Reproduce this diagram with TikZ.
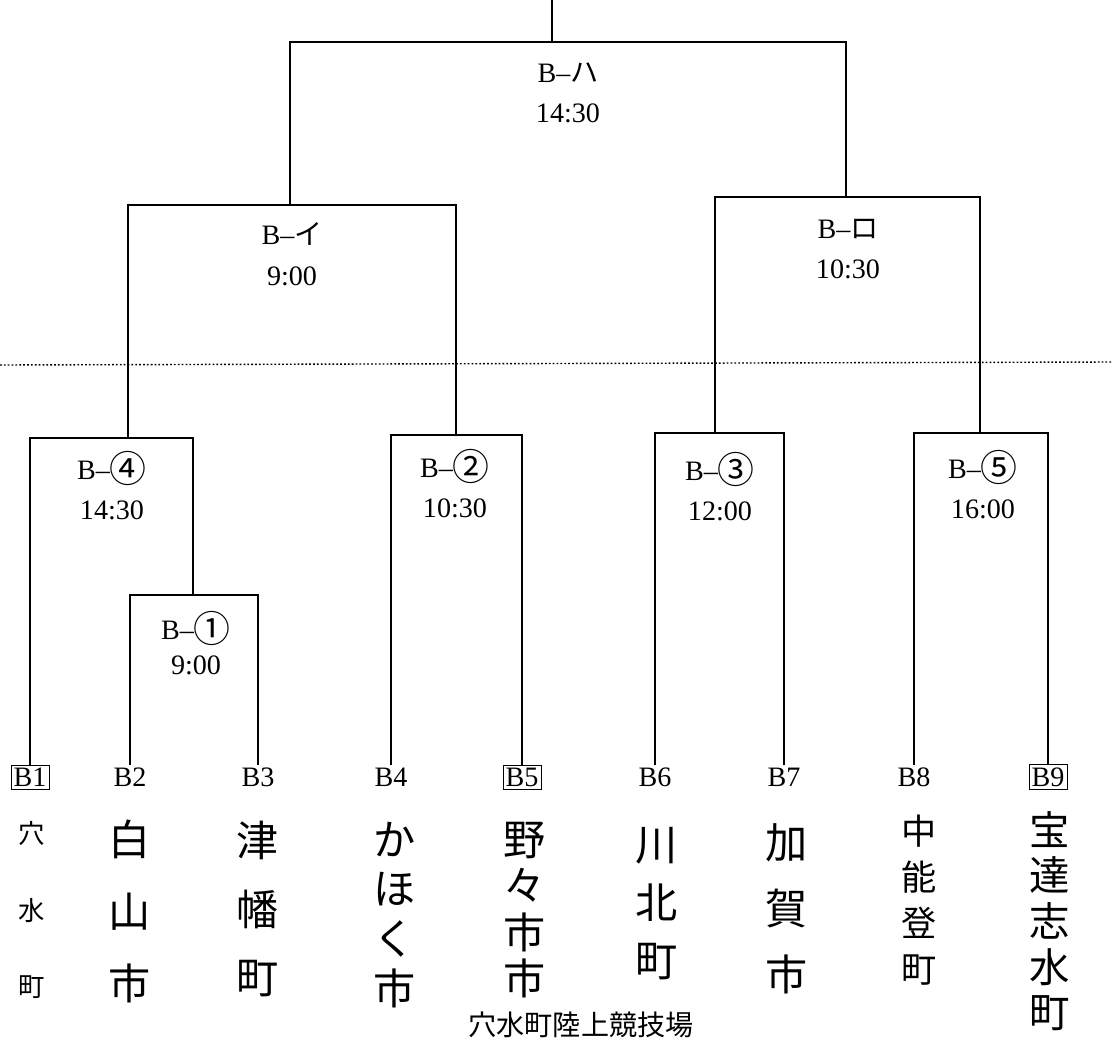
\documentclass[tikz,border=0pt]{standalone}
\usepackage{fontspec}
\setmainfont{Liberation Serif}
\newfontfamily\jp{Noto Sans CJK JP}
\usetikzlibrary{positioning}
\tikzset{
  bracket/.style={draw, line width=1pt},
  match/.style={align=center, inner sep=0pt, font=\fontsize{16}{23}\selectfont},
  team/.style={inner sep=1.5pt, font=\fontsize{16}{19}\selectfont},
  boxed/.style={team, draw, line width=0.5pt},
  city/.style={align=center, inner sep=0pt, font=\jp\fontsize{24}{#1}\selectfont},
  venue/.style={inner sep=0pt, font=\jp\fontsize{16}{18}\selectfont},
}
\newcommand{\mk}[1]{{\jp #1}}
\newcommand{\rd}[1]{\raisebox{-0.12em}{\jp\fontsize{21}{21}\selectfont #1}}

\begin{document}
\begin{tikzpicture}[x=0.02cm, y=-0.02cm]
  \useasboundingbox (0,0) rectangle (1112,1041);

  % teams
  \node[boxed] (t1) at (30,777) {B1};
  \node[team] (t2) at (130,777) {B2};
  \node[team] (t3) at (258,777) {B3};
  \node[team] (t4) at (391,777) {B4};
  \node[boxed] (t5) at (522,777) {B5};
  \node[team] (t6) at (655,777) {B6};
  \node[team] (t7) at (784,777) {B7};
  \node[team] (t8) at (914,777) {B8};
  \node[boxed] (t9) at (1048,777) {B9};

  \node[city=43.7pt, font=\jp\fontsize{15}{43.7}\selectfont] (c1) at (32,910) {穴\\水\\町};
  \node[city=41pt] (c2) at (130,911) {白\\山\\市};
  \node[city=39pt] (c3) at (258,909) {津\\幡\\町};
  \node[city=28.4pt] (c4) at (395,915) {か\\ほ\\く\\市};
  \node[city=26.5pt] (c5) at (525,910) {野\\々\\市\\市};
  \node[city=33pt] (c6) at (657,904) {川\\北\\町};
  \node[city=37.4pt] (c7) at (787,909) {加\\賀\\市};
  \node[city=26.3pt, font=\jp\fontsize{20}{26.3}\selectfont] (c8) at (919,900) {中\\能\\登\\町};
  \node[city=26pt, font=\jp\fontsize{23}{26}\selectfont] (c9) at (1050,921) {宝\\達\\志\\水\\町};

  % bracket corners
  \coordinate (top) at (552,0);
  \coordinate (ah) at (552,42);
  \coordinate (ai) at (290,205);
  \coordinate (ar) at (846,197);
  \coordinate (a4) at (128,438);
  \coordinate (a2) at (456,435);
  \coordinate (a3) at (715,433);
  \coordinate (a5) at (980,433);
  \coordinate (a1) at (193,595);

  \draw[bracket] (t1.north) |- (a4) -| (a1);
  \draw[bracket] (t2.north) |- (a1) -| (t3.north);
  \draw[bracket] (t4.north) |- (a2) -| (t5.north);
  \draw[bracket] (t6.north) |- (a3) -| (t7.north);
  \draw[bracket] (t8.north) |- (a5) -| (t9.north);
  \draw[bracket] (a4) |- (ai) -| (a2);
  \draw[bracket] (a3) |- (ar) -| (a5);
  \draw[bracket] (ai) |- (ah) -| (ar);
  \draw[bracket] (ah) -- (top);

  % match labels
  \node[match] (mh) at (568,93) {B--\mk{ハ}\\14:30};
  \node[match] (mi) at (292,254) {B--\mk{イ}\\9:00};
  \node[match] (mr) at (848,249) {B--\mk{ロ}\\10:30};
  \node[match] (m4) at (112,486) {B--\rd{④}\\14:30};
  \node[match] (m2) at (455,484) {B--\rd{②}\\10:30};
  \node[match] (m3) at (720,487) {B--\rd{③}\\12:00};
  \node[match] (m5) at (983,485) {B--\rd{⑤}\\16:00};
  \node[match, font=\fontsize{16}{20}\selectfont] (m1) at (196,643) {B--\rd{①}\\9:00};

  \coordinate (dl) at (0,365);
  \coordinate (dr) at (1112,362);
  \draw[line width=0.8pt, dash pattern=on 1pt off 1.2pt] (dl) -- (dr);

  \node[venue] (place) at (581,1025) {穴水町陸上競技場};
\end{tikzpicture}
\end{document}
